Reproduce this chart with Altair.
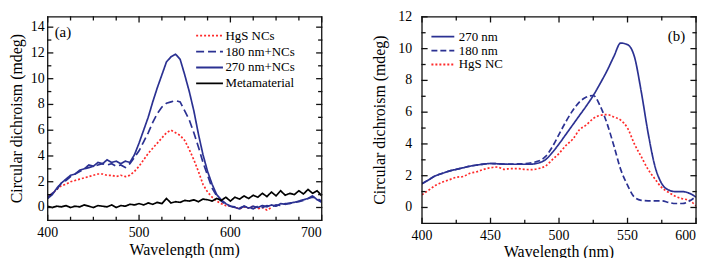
import altair as alt
import pandas as pd

# ---------------- Panel (a) data ----------------
A_WL = list(range(400, 705, 5))
A_HGS_WL = list(range(400, 650, 5))
A_HGS = [0.8, 1.1, 1.4, 1.7, 1.8, 2.0, 2.1, 2.2, 2.3, 2.4,
         2.5, 2.6, 2.6, 2.5, 2.5, 2.4, 2.5, 2.4, 2.5, 2.8,
         3.2, 3.7, 4.2, 4.6, 5.0, 5.4, 5.8, 6.0, 5.8, 5.6,
         5.2, 4.5, 3.7, 2.8, 1.8, 1.2, 0.8, 0.5, 0.3, 0.15,
         0.1, 0.0, -0.1, 0.05, -0.05, 0.1, -0.1, 0.0, -0.2, 0.0]
A_180 = [0.8, 1.1, 1.4, 1.9, 2.1, 2.4, 2.6, 2.8, 3.0, 3.1,
         3.2, 3.3, 3.4, 3.3, 3.4, 3.2, 3.3, 3.1, 3.4, 3.9,
         4.4, 5.1, 5.8, 6.6, 7.3, 7.8, 8.1, 8.2, 8.3, 8.2,
         7.5, 6.8, 5.8, 4.7, 3.5, 2.5, 1.5, 0.9, 0.5, 0.25,
         0.1, 0.05, -0.05, 0.1, 0.0, -0.1, 0.1, 0.0, 0.15, 0.05,
         0.2, 0.15, 0.3, 0.3, 0.4, 0.45, 0.55, 0.7, 0.8, 0.7,
         0.5]
A_270 = [0.7, 1.0, 1.5, 1.9, 2.2, 2.5, 2.6, 2.9, 3.0, 3.3,
         3.2, 3.5, 3.4, 3.7, 3.5, 3.6, 3.4, 3.6, 3.5, 4.1,
         5.0, 6.0, 7.0, 8.2, 9.3, 10.3, 11.3, 11.7, 11.9, 11.5,
         10.3, 9.0, 7.5, 5.7, 4.1, 2.8, 1.8, 1.0, 0.6, 0.3,
         0.1, 0.0, -0.1, 0.1, -0.05, 0.1, 0.0, 0.15, 0.05, 0.2,
         0.1, 0.3, 0.25, 0.35, 0.4, 0.5, 0.6, 0.7, 0.9, 0.6,
         0.4]
A_META = [0.1, 0.0, 0.1, 0.05, 0.15, 0.0, 0.1, 0.05, 0.2, 0.1,
          0.0, 0.15, 0.1, 0.05, 0.2, 0.0, 0.15, 0.1, 0.25, 0.2,
          0.3, 0.2, 0.35, 0.25, 0.4, 0.3, 0.7, 0.35, 0.45, 0.4,
          0.55, 0.5, 0.6, 0.45, 0.65, 0.6, 0.5, 0.7, 0.55, 0.8,
          0.5, 0.8, 0.65, 0.9, 0.7, 0.95, 0.8, 1.1, 0.85, 1.2,
          0.9, 1.3, 0.95, 1.1, 1.0, 1.3, 1.05, 1.4, 1.1, 1.3,
          0.9]
A_NAMES = ["HgS NCs", "180 nm+NCs", "270 nm+NCs", "Metamaterial"]
A_XLABELS = [400, 500, 600, 700]
A_XTICKS = list(range(400, 701, 25))
A_YLABELS = list(range(0, 15, 2))
A_YTICKS = list(range(0, 15))

# ---------------- Panel (b) data ----------------
B_WL = list(range(400, 605, 5))
B_270 = [1.5, 1.75, 2.0, 2.15, 2.3, 2.4, 2.5, 2.6, 2.67, 2.73,
         2.77, 2.75, 2.73, 2.72, 2.72, 2.72, 2.73, 2.8, 3.0, 3.45,
         4.0, 4.6, 5.2, 5.8, 6.4, 7.05, 7.8, 8.6, 9.5, 10.35,
         10.25, 9.5, 7.3, 4.7, 2.6, 1.5, 1.1, 1.0, 1.0, 0.9,
         0.65]
B_180 = [1.5, 1.75, 2.0, 2.15, 2.3, 2.4, 2.5, 2.6, 2.67, 2.73,
         2.77, 2.75, 2.73, 2.73, 2.74, 2.76, 2.82, 2.92, 3.2, 3.8,
         4.6, 5.4, 6.1, 6.65, 6.95, 7.05, 6.4, 5.3, 3.9, 2.4,
         1.4, 0.65, 0.45, 0.42, 0.42, 0.42, 0.32, 0.25, 0.25, 0.4,
         0.7]
B_HGS = [0.8, 1.1, 1.4, 1.6, 1.75, 1.9, 1.95, 2.15, 2.25, 2.4,
         2.5, 2.55, 2.4, 2.45, 2.45, 2.4, 2.38, 2.45, 2.6, 3.0,
         3.4, 3.9, 4.3, 4.9, 5.2, 5.6, 5.8, 5.85, 5.7, 5.5,
         5.0, 4.0, 3.2, 2.4, 1.8, 1.25, 0.95, 0.7, 0.55, 0.45,
         0.1]
B_NAMES = ["270 nm", "180 nm", "HgS NC"]
B_XLABELS = [400, 450, 500, 550, 600]
B_XTICKS = list(range(400, 601, 25))
B_YLABELS = list(range(0, 13, 2))
B_YTICKS = list(range(0, 13))

X_TITLE = "Wavelength (nm)"
Y_TITLE = "Circular dichroism (mdeg)"

BLUE = "#2b3192"
RED = "#ff2a2a"
FONT = "Liberation Serif, Times New Roman, serif"


def long_df(pairs):
    rows = []
    for name, xs, ys in pairs:
        for x, y in zip(xs, ys):
            rows.append({"wl": x, "cd": y, "series": name})
    return pd.DataFrame(rows)


df_a = long_df([
    ("HgS NCs", A_HGS_WL, A_HGS),
    ("180 nm+NCs", A_WL, A_180),
    ("270 nm+NCs", A_WL, A_270),
    ("Metamaterial", A_WL, A_META),
])
df_b = long_df([
    ("HgS NC", B_WL, B_HGS),
    ("180 nm", B_WL, B_180),
    ("270 nm", B_WL, B_270),
])


def frame_ticks(xdom, ydom, W, H, xticks, xmajor, yticks, ymajor):
    """Frame outline and inward ticks, expressed in data units (drawn through the scales)."""
    px_x = (xdom[1] - xdom[0]) / W
    px_y = (ydom[1] - ydom[0]) / H
    rows = []
    gid = 0
    for k, (x, y) in enumerate([(xdom[0], ydom[0]), (xdom[1], ydom[0]), (xdom[1], ydom[1]),
                                (xdom[0], ydom[1]), (xdom[0], ydom[0])]):
        rows.append({"g": gid, "k": k, "wl": x, "cd": y})
    for v in xticks:
        ln = (5 if v in xmajor else 3) * px_y
        gid += 1
        rows += [{"g": gid, "k": 0, "wl": v, "cd": ydom[0]}, {"g": gid, "k": 1, "wl": v, "cd": ydom[0] + ln}]
        gid += 1
        rows += [{"g": gid, "k": 0, "wl": v, "cd": ydom[1]}, {"g": gid, "k": 1, "wl": v, "cd": ydom[1] - ln}]
    for v in yticks:
        ln = (5 if v in ymajor else 3) * px_x
        gid += 1
        rows += [{"g": gid, "k": 0, "wl": xdom[0], "cd": v}, {"g": gid, "k": 1, "wl": xdom[0] + ln, "cd": v}]
        gid += 1
        rows += [{"g": gid, "k": 0, "wl": xdom[1], "cd": v}, {"g": gid, "k": 1, "wl": xdom[1] - ln, "cd": v}]
    return pd.DataFrame(rows)


def panel(df, names, colors, dashes, xdom, ydom, W, H, xmajor, xticks,
          ymajor, yticks, legend, tag, tag_x, tag_y, tag_align, interp,
          ylab_dx, ytitle_x, xtitle_dy):
    xs = alt.Scale(domain=xdom, nice=False, zero=False)
    ys = alt.Scale(domain=ydom, nice=False, zero=False)
    X = alt.X("wl:Q", scale=xs, axis=None)
    Y = alt.Y("cd:Q", scale=ys, axis=None)

    lines = alt.Chart(df).mark_line(strokeWidth=1.7, interpolate=interp, clip=True).encode(
        x=X, y=Y,
        color=alt.Color("series:N", scale=alt.Scale(domain=names, range=colors), legend=legend),
        strokeDash=alt.StrokeDash("series:N", scale=alt.Scale(domain=names, range=dashes), legend=legend),
    )
    ft = alt.Chart(frame_ticks(xdom, ydom, W, H, xticks, xmajor, yticks, ymajor)).mark_line(
        color="#111111", strokeWidth=1.3, strokeCap="square"
    ).encode(x=X, y=Y, detail="g:N", order="k:Q")

    # tick labels placed through the scales
    xl_df = pd.DataFrame({"wl": xmajor[:-1], "cd": [ydom[0]] * (len(xmajor) - 1),
                          "t": [str(v) for v in xmajor[:-1]]})
    xl_last = pd.DataFrame({"wl": xmajor[-1:], "cd": [ydom[0]], "t": [str(xmajor[-1])]})
    xl = alt.Chart(xl_df).mark_text(font=FONT, fontSize=14, baseline="top", align="center",
                                    dy=6, color="black").encode(x=X, y=Y, text="t:N")
    xl2 = alt.Chart(xl_last).mark_text(font=FONT, fontSize=14, baseline="top", align="right",
                                       dy=6, color="black").encode(x=X, y=Y, text="t:N")
    yl_df = pd.DataFrame({"wl": [xdom[0]] * len(ymajor), "cd": ymajor,
                          "t": [str(v) for v in ymajor]})
    yl = alt.Chart(yl_df).mark_text(font=FONT, fontSize=14, baseline="middle", align="right",
                                    dx=ylab_dx, color="black").encode(x=X, y=Y, text="t:N")

    xt = alt.Chart(pd.DataFrame({"t": [X_TITLE]})).mark_text(
        font=FONT, fontSize=16, align="center", baseline="middle", color="black"
    ).encode(text="t:N", x=alt.value(W / 2), y=alt.value(H + xtitle_dy))
    yt = alt.Chart(pd.DataFrame({"t": [Y_TITLE]})).mark_text(
        font=FONT, fontSize=16, align="center", baseline="middle", angle=270, color="black"
    ).encode(text="t:N", x=alt.value(ytitle_x), y=alt.value(H / 2))

    label = alt.Chart(pd.DataFrame({"t": [tag]})).mark_text(
        font=FONT, fontSize=15, align=tag_align, baseline="middle", color="black"
    ).encode(text="t:N", x=alt.value(tag_x), y=alt.value(tag_y))

    return alt.layer(lines, ft, xl, xl2, yl, xt, yt, label).properties(width=W, height=H)


leg_a = alt.Legend(title=None, orient="none", legendX=156, legendY=12,
                   symbolType="M-2.25,0H2.25", symbolSize=144, symbolStrokeWidth=1.8,
                   labelOffset=9, rowPadding=2, labelFontSize=13, labelFont=FONT)
leg_b = alt.Legend(title=None, orient="none", legendX=14, legendY=13,
                   symbolType="M-1.92,0H1.92", symbolSize=144, symbolStrokeWidth=1.8,
                   labelOffset=9, rowPadding=0, labelFontSize=13, labelFont=FONT)

pa = panel(df_a, A_NAMES, [RED, BLUE, BLUE, "black"], [[2, 2], [8, 4], [1, 0], [1, 0]],
           [400, 700], [-1, 14.8], 276, 205,
           A_XLABELS, A_XTICKS, A_YLABELS, A_YTICKS, leg_a, "(a)", 7, 15, "left", "linear",
           -3, -31, 30)
pb = panel(df_b, B_NAMES, [BLUE, BLUE, RED], [[1, 0], [6, 3], [2, 2]],
           [400, 600], [-1, 12], 276, 208,
           B_XLABELS, B_XTICKS, B_YLABELS, B_YTICKS, leg_b, "(b)", 265, 19, "right", "monotone",
           -10, -42, 29)

chart = alt.hconcat(pa, pb, spacing=46).resolve_scale(
    color="independent", strokeDash="independent"
).properties(padding=0, background="white").configure_view(
    stroke="transparent"
).configure_legend(labelColor="black")

chart.save("out.html", embed_options={"renderer": "svg", "actions": False})
